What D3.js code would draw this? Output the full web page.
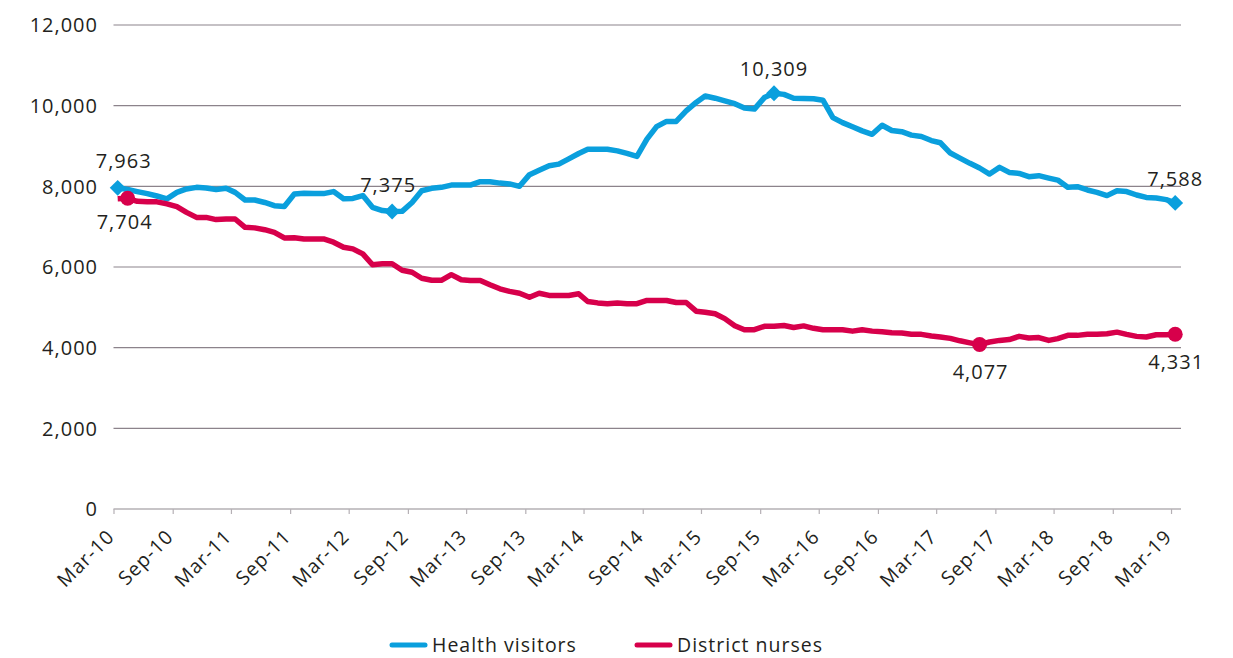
<!DOCTYPE html>
<html>
<head>
<meta charset="utf-8">
<script src="https://cdn.jsdelivr.net/npm/d3@7"></script>
<style>
  body { margin: 0; background: #fff; }
  text { font-family: "Open Sans", sans-serif; fill: #231f20; letter-spacing: 1px; }
</style>
</head>
<body>
<div id="chart"></div>
<script>
// Monthly staff numbers, Mar-10 .. Mar-19
var firstMonth = new Date(2010, 2, 14);
var healthVisitors = [
  7963, 7920, 7870, 7820, 7760, 7690, 7850, 7935, 7975, 7960,
  7920, 7950, 7850, 7660, 7660, 7600, 7520, 7500, 7810, 7830,
  7820, 7820, 7870, 7690, 7700, 7770, 7480, 7400, 7375, 7380,
  7600, 7890, 7950, 7975, 8030, 8030, 8030, 8115, 8115, 8080,
  8060, 8000, 8290, 8400, 8510, 8550, 8680, 8815, 8920, 8920,
  8920, 8880, 8815, 8740, 9170, 9480, 9610, 9610, 9870, 10080,
  10240, 10185, 10120, 10050, 9940, 9915, 10200, 10309, 10280, 10185,
  10180, 10170, 10135, 9705, 9580, 9475, 9375, 9290, 9515, 9385,
  9355, 9270, 9235, 9135, 9080, 8825, 8700, 8570, 8455, 8305,
  8470, 8345, 8320, 8240, 8265, 8205, 8155, 7975, 7990, 7910,
  7850, 7770, 7890, 7870, 7785, 7725, 7710, 7670, 7588
];
var districtNurses = [
  7690, 7704, 7630, 7620, 7615, 7565, 7495, 7355, 7230, 7230,
  7175, 7190, 7190, 6985, 6970, 6925, 6860, 6720, 6725, 6695,
  6695, 6695, 6615, 6490, 6450, 6325, 6055, 6080, 6080, 5920,
  5870, 5720, 5670, 5670, 5810, 5685, 5665, 5665, 5560, 5460,
  5395, 5350, 5250, 5350, 5295, 5295, 5295, 5335, 5145, 5110,
  5090, 5110, 5090, 5090, 5170, 5170, 5170, 5120, 5120, 4905,
  4880, 4840, 4720, 4545, 4445, 4445, 4530, 4530, 4550, 4500,
  4540, 4480, 4445, 4445, 4445, 4410, 4445, 4410, 4395, 4370,
  4365, 4335, 4330, 4290, 4265, 4230, 4170, 4120, 4077, 4140,
  4180, 4200, 4280, 4240, 4250, 4180, 4225, 4305, 4305, 4330,
  4330, 4345, 4385, 4330, 4280, 4265, 4320, 4320, 4331
];
// which points carry a marker + value label (index into series)
var hvMarked = [0, 28, 67, 108];
var dnMarked = [1, 88, 108];
var yTicks = [0, 2000, 4000, 6000, 8000, 10000, 12000];
var tickLabels = ["Mar-10", "Sep-10", "Mar-11", "Sep-11", "Mar-12", "Sep-12", "Mar-13",
  "Sep-13", "Mar-14", "Sep-14", "Mar-15", "Sep-15", "Mar-16", "Sep-16", "Mar-17",
  "Sep-17", "Mar-18", "Sep-18", "Mar-19"];
var seriesNames = ["Health visitors", "District nurses"];

(function() {
var blue = "#0a9fdd", red = "#d7004b";

var W = 1233, H = 658;
var mLeft = 113.5, mRight = 1181, mTop = 25, mBottom = 509;

var svg = d3.select("#chart").append("svg")
    .attr("width", W)
    .attr("height", H);

var months = healthVisitors.map(function(d, i) {
    return d3.timeMonth.offset(firstMonth, i);
});
var parseTick = d3.timeParse("%b-%y");
var tickDates = tickLabels.map(parseTick);

var x = d3.scaleTime()
    .domain([new Date(2010, 2, 1), new Date(2019, 3, 1)])
    .range([mLeft, mRight]);
var y = d3.scaleLinear().domain([0, 12000]).range([mBottom, mTop]);

// gridlines + y labels
svg.append("g").selectAll("line")
    .data(yTicks.filter(function(d) { return d > 0; }))
    .enter().append("line")
    .attr("x1", mLeft).attr("x2", mRight)
    .attr("y1", function(d) { return y(d); })
    .attr("y2", function(d) { return y(d); })
    .attr("stroke", "#8c838b")
    .attr("stroke-width", 1.2);

svg.append("g").selectAll("text")
    .data(yTicks)
    .enter().append("text")
    .attr("x", 98)
    .attr("y", function(d) { return y(d); })
    .attr("dy", "0.36em")
    .style("text-anchor", "end")
    .style("font-size", "20px")
    .text(function(d) { return d3.format(",")(d); });

// x axis
var xAxis = d3.axisBottom(x)
    .tickValues(tickDates)
    .tickSize(5)
    .tickFormat(function() { return ""; });
var gx = svg.append("g")
    .attr("transform", "translate(0," + mBottom + ")")
    .call(xAxis);
gx.select(".domain").attr("stroke", "#b5b0b5").attr("stroke-width", 1.5)
    .attr("d", "M" + mLeft + ",0H" + mRight);
gx.selectAll(".tick line").attr("stroke", "#b5b0b5").attr("stroke-width", 1.2);

svg.append("g").selectAll("text")
    .data(tickDates)
    .enter().append("text")
    .attr("transform", function(d) {
        return "translate(" + (x(d) + 2) + "," + (mBottom + 29) + ") rotate(-45)";
    })
    .style("text-anchor", "end")
    .style("font-size", "19.5px")
    .text(function(d, i) { return tickLabels[i]; });

// lines
var line = d3.line()
    .x(function(d, i) { return x(months[i]); })
    .y(function(d) { return y(d); });

[[healthVisitors, blue], [districtNurses, red]].forEach(function(s) {
    svg.append("path")
        .datum(s[0])
        .attr("d", line)
        .attr("fill", "none")
        .attr("stroke", s[1])
        .attr("stroke-width", 5.5)
        .attr("stroke-linejoin", "round");
});

// markers
svg.append("g").selectAll("path")
    .data(hvMarked)
    .enter().append("path")
    .attr("d", d3.symbol().type(d3.symbolDiamond2).size(160))
    .attr("transform", function(i) {
        return "translate(" + x(months[i]) + "," + y(healthVisitors[i]) + ")";
    })
    .attr("fill", blue);

svg.append("g").selectAll("circle")
    .data(dnMarked)
    .enter().append("circle")
    .attr("cx", function(i) { return x(months[i]); })
    .attr("cy", function(i) { return y(districtNurses[i]); })
    .attr("r", 7.5)
    .attr("fill", red);

// value labels
svg.append("g").selectAll("text")
    .data(hvMarked)
    .enter().append("text")
    .attr("x", function(i) { return x(months[i]) + (i == 0 ? 6 : i == 28 ? -4 : 0); })
    .attr("y", function(i) { return y(healthVisitors[i]) - (i == 0 || i == 28 ? 27 : 24); })
    .attr("dy", "0.36em")
    .style("text-anchor", "middle")
    .style("font-size", "20px")
    .text(function(i) { return d3.format(",")(healthVisitors[i]); });

svg.append("g").selectAll("text")
    .data(dnMarked)
    .enter().append("text")
    .attr("x", function(i) { return x(months[i]) + (i == 1 ? -3 : 1); })
    .attr("y", function(i) { return y(districtNurses[i]) + (i == 1 ? 24 : 27); })
    .attr("dy", "0.36em")
    .style("text-anchor", "middle")
    .style("font-size", "20px")
    .text(function(i) { return d3.format(",")(districtNurses[i]); });

// legend
var legend = svg.append("g").attr("transform", "translate(0,645)");
var legX = [392, 637];
seriesNames.forEach(function(name, k) {
    legend.append("line")
        .attr("x1", legX[k]).attr("x2", legX[k] + 33)
        .attr("y1", 0).attr("y2", 0)
        .attr("stroke", k == 0 ? blue : red)
        .attr("stroke-width", 5)
        .attr("stroke-linecap", "round");
    legend.append("text")
        .attr("x", legX[k] + 40)
        .attr("y", 0)
        .attr("dy", "0.34em")
        .style("font-size", "19.5px")
        .text(name);
});
})();
</script>
</body>
</html>
